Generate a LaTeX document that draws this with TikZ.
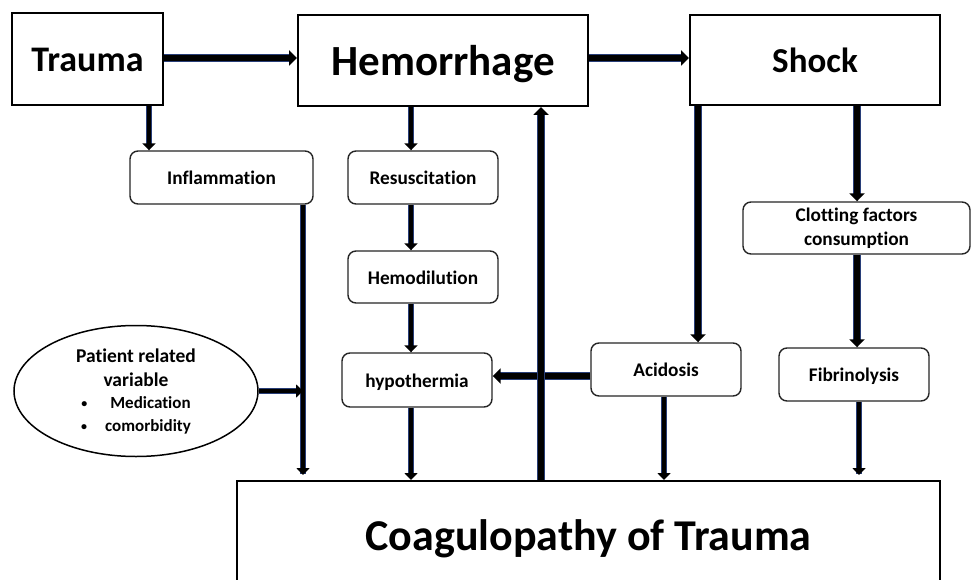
\documentclass[tikz,border=0pt]{standalone}
\usepackage{fontspec}
\setmainfont{Carlito}[Ligatures={NoCommon,NoContextual}]
\usetikzlibrary{arrows.meta,shapes.geometric}
\definecolor{edgeblue}{RGB}{40,62,120}
\tikzset{
  bigbox/.style={draw=black, line width=2pt, fill=white, inner sep=0pt, text depth=0pt},
  softbox/.style={draw=black!85, line width=1.4pt, rounded corners=8pt, fill=white, inner sep=0pt,
     font=\fontsize{19.3}{23.5}\selectfont\bfseries},
  onetext/.style={text height=14.5pt, text depth=0pt},
  thinarrow/.style={line width=4.8pt, draw=black, -{Triangle[width=13pt,length=7pt]},
     preaction={draw=edgeblue, line width=6pt, -, shorten >=6pt}},
  thickarrow/.style={line width=6.5pt, draw=black, -{Triangle[width=15pt,length=8pt]},
     preaction={draw=edgeblue, line width=7.7pt, -, shorten >=7pt}},
}
\begin{document}
\begin{tikzpicture}[x=1pt,y=-1pt, font=\bfseries]
\useasboundingbox (0,0) rectangle (971,580);
\clip (0,0) rectangle (971,580);
\fill[white] (0,0) rectangle (971,580);

% coordinates for connector lanes
\coordinate (yA) at (0,58);
\coordinate (yB) at (0,376);
\coordinate (x149) at (149,0);
\coordinate (x303) at (303,0);
\coordinate (x411) at (411,0);
\coordinate (x541) at (541,0);
\coordinate (x664) at (664,0);
\coordinate (x698) at (698,0);
\coordinate (x857) at (857,0);
\coordinate (x859) at (859,0);

% nodes
\node[bigbox, minimum width=151pt, minimum height=92pt, text height=25.5pt, font=\fontsize{36}{42}\selectfont\bfseries] (trauma) at (87.5,59) {Trauma};
\node[bigbox, minimum width=290pt, minimum height=91pt, text height=30pt, font=\fontsize{43}{48}\selectfont\bfseries] (hem) at (443,60.5) {Hemorrhage};
\node[bigbox, minimum width=250pt, minimum height=90pt, text height=25pt, font=\fontsize{35}{40}\selectfont\bfseries] (shock) at (815,60) {Shock};

\node[softbox, onetext, minimum width=183pt, minimum height=53pt] (inflam) at (221.5,177.5) {Inflammation};
\node[softbox, onetext, minimum width=150pt, minimum height=53pt] (resus) at (423,177.5) {Resuscitation};
\node[softbox, onetext, minimum width=150pt, minimum height=52pt] (hemod) at (423,277) {Hemodilution};
\node[softbox, onetext, minimum width=150pt, minimum height=54pt] (hypo) at (417,380) {hypothermia};
\node[softbox, onetext, minimum width=150pt, minimum height=53pt] (acid) at (666,369.5) {Acidosis};
\node[softbox, onetext, minimum width=150pt, minimum height=53pt] (fib) at (854,374.5) {Fibrinolysis};
\node[softbox, align=center, minimum width=227pt, minimum height=52pt] (clot) at (856.5,228) {Clotting factors\\consumption};

\node[ellipse, draw=black, line width=1.5pt, fill=white, inner sep=0pt, minimum width=244pt, minimum height=131pt,
      align=center, font=\fontsize{19.5}{24}\selectfont\bfseries] (pat) at (136,391)
  {Patient related\\variable\\[-2pt]
   {\fontsize{17}{21}\selectfont\makebox[29pt][l]{\fontsize{12}{12}\selectfont\raisebox{1pt}{\textbullet}}Medication}\\[-1pt]
   {\fontsize{17}{21}\selectfont\makebox[24pt][l]{\fontsize{12}{12}\selectfont\raisebox{1pt}{\textbullet}}comorbidity}};

\node[bigbox, minimum width=703pt, minimum height=108pt, text height=30.5pt, font=\fontsize{44}{50}\selectfont\bfseries] (coag) at (588.5,535) {Coagulopathy of Trauma};

% connectors
\draw[thickarrow] (trauma.east |- yA) -- (hem.west |- yA);
\draw[thickarrow] (hem.east |- yA) -- (shock.west |- yA);

\draw[thinarrow] (trauma.south -| x149) -- (inflam.north -| x149);
\draw[thinarrow, shorten >=5pt] (inflam.south -| x303) -- (coag.north -| x303);
\draw[thinarrow] (pat.east) -- (pat.east -| x303);

\draw[thinarrow] (hem.south -| x411) -- (resus.north -| x411);
\draw[thinarrow] (resus.south -| x411) -- (hemod.north -| x411);
\draw[thinarrow] (hemod.south -| x411) -- (hypo.north -| x411);
\draw[thinarrow] (hypo.south -| x411) -- (coag.north -| x411);

\draw[thickarrow] (acid.west |- yB) -- (hypo.east |- yB);
\draw[thickarrow] (coag.north -| x541) -- (hem.south -| x541);

\draw[thickarrow] (shock.south -| x698) -- (acid.north -| x698);
\draw[thickarrow] (shock.south -| x857) -- (clot.north -| x857);
\draw[thickarrow] (clot.south -| x857) -- (fib.north -| x857);

\draw[thinarrow] (acid.south -| x664) -- (coag.north -| x664);
\draw[thinarrow, shorten >=5pt] (fib.south -| x859) -- (coag.north -| x859);
\end{tikzpicture}
\end{document}
